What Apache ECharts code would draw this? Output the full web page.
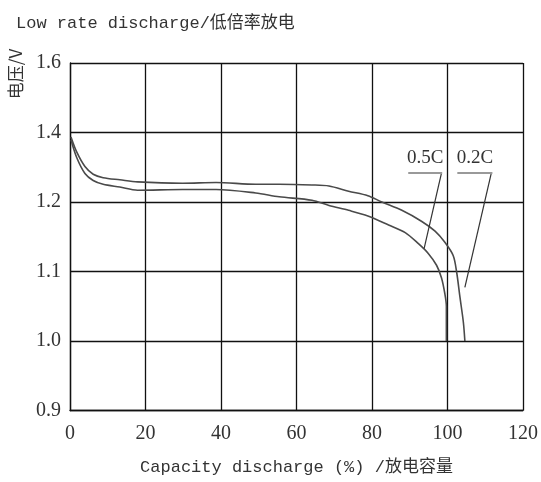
<!DOCTYPE html>
<html>
<head>
<meta charset="utf-8">
<script src="https://cdn.jsdelivr.net/npm/echarts@6/dist/echarts.min.js"></script>
<style>
html,body{margin:0;padding:0;background:#fff;}
#chart{width:541px;height:482px;}
</style>
</head>
<body>
<div id="chart"></div>
<script>
// ---- data ----
var titleText = 'Low rate discharge/低倍率放电';
var xName = 'Capacity discharge (%) /放电容量';
var yName = '电压/V';
var xTicks = [0, 20, 40, 60, 80, 100, 120];
var yTickLabels = ['0.9', '1.0', '1.1', '1.2', '1.4', '1.6'];
var yTickValues = [0.9, 1.0, 1.1, 1.2, 1.4, 1.6];

var seriesNames = ['0.2C', '0.5C'];
// 0.2C (upper curve)
var cap02 = [0.26, 1.77, 3.96, 6.14, 8.78, 13.2, 17.9, 29.8, 38.7, 49.2, 55.4, 64.1, 68.6, 73.8, 78.9, 82.6, 87.9, 93.2, 96.7, 99.3, 101.5, 102.4, 103.3, 104.2, 104.6];
var volt02 = [1.387, 1.344, 1.302, 1.280, 1.270, 1.264, 1.258, 1.254, 1.256, 1.251, 1.251, 1.249, 1.246, 1.231, 1.218, 1.200, 1.188, 1.172, 1.158, 1.142, 1.123, 1.100, 1.063, 1.027, 1.000];
// 0.5C (lower curve)
var cap05 = [0.26, 1.77, 3.96, 6.14, 8.78, 13.2, 17.9, 29.8, 38.7, 49.2, 55.4, 64.1, 68.6, 73.8, 78.9, 84.4, 88.8, 92.3, 94.9, 97.1, 98.4, 99.3, 99.7, 99.7];
var volt05 = [1.379, 1.328, 1.282, 1.262, 1.251, 1.243, 1.234, 1.236, 1.236, 1.226, 1.215, 1.205, 1.195, 1.188, 1.180, 1.167, 1.156, 1.140, 1.126, 1.109, 1.091, 1.068, 1.050, 1.000];

// annotation anchors (capacity %, voltage)
var label05 = [94.1, 1.326];
var label02 = [107.3, 1.326];
var under05 = [[89.6, 1.285], [98.6, 1.285]];
var under02 = [[102.6, 1.285], [111.9, 1.285]];
var leader05 = [[98.4, 1.283], [93.8, 1.133]];
var leader02 = [[111.6, 1.283], [104.6, 1.077]];

// the voltage axis is drawn with evenly spaced, unevenly labelled gridlines
function toIdx(v) {
  for (var i = 0; i < yTickValues.length - 1; i++) {
    var a = yTickValues[i], b = yTickValues[i + 1];
    if (v <= b || i === yTickValues.length - 2) {
      return i + (v - a) / (b - a);
    }
  }
}
function pts(xs, vs) { return xs.map(function (x, i) { return [x, toIdx(vs[i])]; }); }
function c(p) { return [p[0], toIdx(p[1])]; }

var lineColor = '#4a4a4a';
var gridColor = '#111';
var textColor = '#333';
var serif = "'Liberation Serif', serif";
var mono = "'Liberation Mono', 'Noto Sans CJK SC', monospace";

function annot(name, lab, under, leader) {
  return {
    markLine: {
      silent: true, animation: false, symbol: ['none', 'none'],
      label: {show: false},
      data: [
        [{coord: c(leader[0]), lineStyle: {color: '#333', width: 1.2, type: 'solid'}}, {coord: c(leader[1])}],
        [{coord: c(under[0]), lineStyle: {color: '#999', width: 2, type: 'solid'}}, {coord: c(under[1])}]
      ]
    },
    markPoint: {
      silent: true, animation: false, symbol: 'circle', symbolSize: 1,
      itemStyle: {color: 'rgba(0,0,0,0)'},
      label: {show: true, position: 'inside', formatter: name, color: textColor, fontSize: 19, fontFamily: serif},
      data: [{coord: c(lab)}]
    }
  };
}

var chart = echarts.init(document.getElementById('chart'));
var s02 = Object.assign({
  name: seriesNames[0], type: 'line', data: pts(cap02, volt02), showSymbol: false, smooth: 0.3,
  lineStyle: {color: lineColor, width: 1.6}, itemStyle: {color: lineColor}
}, annot(seriesNames[0], label02, under02, leader02));
var s05 = Object.assign({
  name: seriesNames[1], type: 'line', data: pts(cap05, volt05), showSymbol: false, smooth: 0.3,
  lineStyle: {color: lineColor, width: 1.6}, itemStyle: {color: lineColor}
}, annot(seriesNames[1], label05, under05, leader05));

chart.setOption({
  animation: false,
  backgroundColor: '#fff',
  title: {
    text: titleText, left: 11, top: 10,
    textStyle: {fontSize: 17, fontWeight: 'normal', color: textColor, fontFamily: mono}
  },
  grid: {left: 70, right: 16, top: 63, bottom: 71.5, containLabel: false},
  xAxis: {
    type: 'value', min: xTicks[0], max: xTicks[xTicks.length - 1], interval: 20,
    name: xName, nameLocation: 'middle', nameGap: 49,
    nameTextStyle: {fontSize: 17, color: textColor, fontFamily: mono},
    axisLine: {show: true, lineStyle: {color: gridColor, width: 1.3}},
    axisTick: {show: false},
    splitLine: {show: true, lineStyle: {color: gridColor, width: 1.3}},
    axisLabel: {margin: 13, fontSize: 20, color: textColor, fontFamily: serif}
  },
  yAxis: {
    type: 'value', min: 0, max: yTickLabels.length - 1, interval: 1,
    axisLine: {show: true, lineStyle: {color: gridColor, width: 1.3}},
    axisTick: {show: false},
    splitLine: {show: true, lineStyle: {color: gridColor, width: 1.3}},
    axisLabel: {
      margin: 9, fontSize: 20, color: textColor, fontFamily: serif,
      formatter: function (v) { return yTickLabels[Math.round(v)]; }
    }
  },
  graphic: [{
    type: 'text', x: 16, y: 74, rotation: Math.PI / 2, silent: true,
    style: {text: yName, fill: textColor, font: "17px 'Noto Sans CJK SC'", textAlign: 'center', textVerticalAlign: 'middle'}
  }],
  series: [s02, s05]
});
</script>
</body>
</html>
